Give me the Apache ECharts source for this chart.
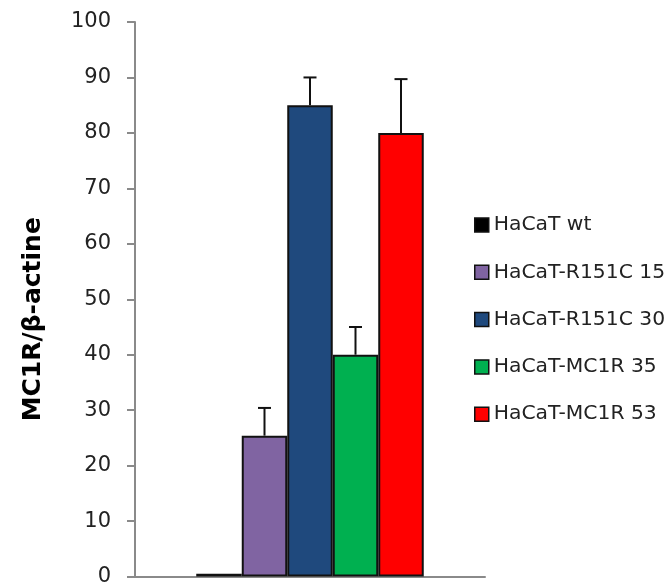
<!DOCTYPE html>
<html>
<head>
<meta charset="utf-8">
<script src="https://cdn.jsdelivr.net/npm/echarts@6/dist/echarts.min.js"></script>
<style>html,body{margin:0;padding:0;background:#fff;}#c{width:672px;height:587px;}</style>
</head>
<body>
<div id="c"></div>
<script>
const seriesNames = ['HaCaT wt', 'HaCaT-R151C 15', 'HaCaT-R151C 30', 'HaCaT-MC1R 35', 'HaCaT-MC1R 53'];
const means = [0.5, 25.4, 85, 40, 80];
const errors = [0, 5, 5, 5, 9.7];
const colors = ['#000000', '#8064A2', '#1F497D', '#00B050', '#FF0000'];
const yTicks = { min: 0, max: 100, interval: 10 };
const yTitle = 'MC1R/β-actine';

const chart = echarts.init(document.getElementById('c'));
const catGap = 0.35;
const barSeries = seriesNames.map((n, i) => ({
  name: n,
  type: 'bar',
  data: [means[i]],
  barGap: '0%',
  barCategoryGap: '35%',
  itemStyle: { color: colors[i], borderColor: '#111', borderWidth: 2 },
  emphasis: { disabled: true }
}));
const errSeries = {
  type: 'custom',
  silent: true,
  z: 10,
  data: means.map((m, i) => [0, m, errors[i], i]),
  renderItem: function (params, api) {
    const i = api.value(3);
    const err = api.value(2);
    if (!err) return null;
    const catW = api.size([1, 0])[0];
    const bw = catW * (1 - catGap) / seriesNames.length;
    const base = api.coord([0, api.value(1)]);
    const top = api.coord([0, api.value(1) + err]);
    const x = base[0] + (i - (seriesNames.length - 1) / 2) * bw;
    const style = { stroke: '#111', lineWidth: 2 };
    return {
      type: 'group',
      children: [
        { type: 'line', shape: { x1: x, y1: base[1], x2: x, y2: top[1] }, style: style },
        { type: 'line', shape: { x1: x - 6.5, y1: top[1], x2: x + 6.5, y2: top[1] }, style: style }
      ]
    };
  }
};

chart.setOption({
  animation: false,
  backgroundColor: '#fff',
  grid: { left: 135, right: 187, top: 22, bottom: 8, containLabel: false },
  legend: {
    orient: 'vertical',
    left: 469,
    top: 210,
    icon: 'rect',
    itemWidth: 14,
    itemHeight: 14,
    itemGap: 27.3,
    data: seriesNames,
    textStyle: { fontFamily: 'DejaVu Sans', fontSize: 20.3, color: '#222', lineHeight: 20 },
    itemStyle: { borderColor: '#111', borderWidth: 1.5 }
  },
  xAxis: {
    type: 'category',
    data: [''],
    axisLine: { lineStyle: { color: '#8a8a8a', width: 2 } },
    axisTick: { show: false },
    axisLabel: { show: false }
  },
  yAxis: {
    type: 'value',
    min: yTicks.min,
    max: yTicks.max,
    interval: yTicks.interval,
    name: yTitle,
    nameLocation: 'middle',
    nameRotate: 90,
    nameGap: 89,
    nameTextStyle: { fontFamily: 'DejaVu Sans', fontWeight: 'bold', fontSize: 25, color: '#000', padding: [0, 40, 0, 0] },
    axisLine: { show: true, lineStyle: { color: '#8a8a8a', width: 2 } },
    axisTick: { show: true, inside: false, length: 8, lineStyle: { color: '#8a8a8a', width: 2 } },
    axisLabel: { margin: 24, fontFamily: 'DejaVu Sans', fontSize: 21, color: '#222' },
    splitLine: { show: false }
  },
  series: barSeries.concat([errSeries])
});
</script>
</body>
</html>
